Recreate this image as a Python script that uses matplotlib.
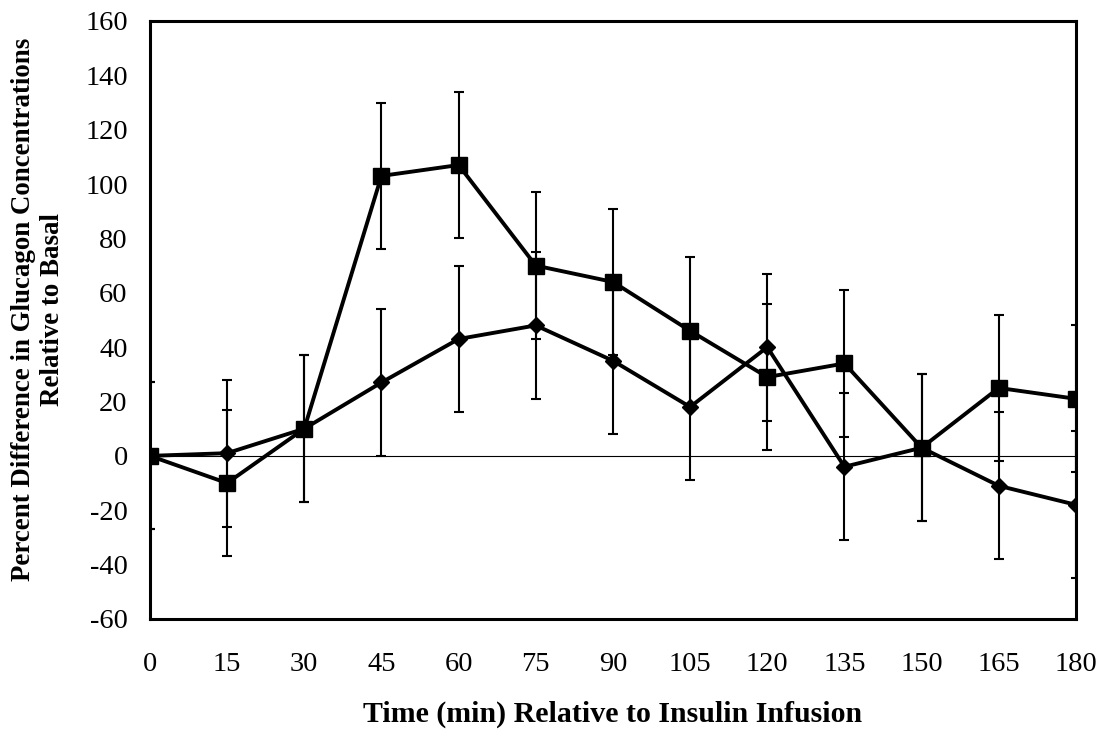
import matplotlib
matplotlib.use("Agg")
import matplotlib.pyplot as plt

plt.rcParams['font.family'] = ['Liberation Serif', 'DejaVu Serif']
plt.rcParams['axes.unicode_minus'] = False

# time points (min) relative to insulin infusion
minutes = [0, 15, 30, 45, 60, 75, 90, 105, 120, 135, 150, 165, 180]

# percent change in glucagon vs basal, two groups
diamond_vals = [0, 1, 10, 27, 43, 48, 35, 18, 40, -4, 3, -11, -18]
square_vals = [0, -10, 10, 103, 107, 70, 64, 46, 29, 34, 3, 25, 21]
diamond_err = [27, 27, 27, 27, 27, 27, 27, 27, 27, 27, 27, 27, 27]
square_err = [27, 27, 27, 27, 27, 27, 27, 27, 27, 27, 27, 27, 27]

y_ticks = [-60, -40, -20, 0, 20, 40, 60, 80, 100, 120, 140, 160]

fig = plt.figure(figsize=(11.05, 7.36), dpi=100)
ax = fig.add_axes([0.1357, 0.159, 0.838, 0.8125])

ax.axhline(0, color='black', lw=0.8, zorder=1)

ax.errorbar(minutes, diamond_vals, yerr=diamond_err, color='black', lw=2.8,
            marker='D', markersize=8.5, elinewidth=1.5, capsize=3.7, capthick=1.5,
            zorder=3)
ax.errorbar(minutes, square_vals, yerr=square_err, color='black', lw=2.8,
            marker='s', markersize=12, elinewidth=1.5, capsize=3.7, capthick=1.5,
            zorder=4)

ax.set_xlim(0, 180)
ax.set_ylim(-60, 160)
ax.set_xticks(minutes)
ax.set_yticks(y_ticks)
ax.tick_params(axis='both', length=0, labelsize=20.5)
ax.tick_params(axis='x', pad=24)
ax.tick_params(axis='y', pad=16)
for sp in ax.spines.values():
    sp.set_linewidth(2.2)
    sp.set_zorder(5)

for lbl in ax.get_xticklabels() + ax.get_yticklabels():
    lbl.set_clip_on(False)

fig.text(0.5547, 0.0295, 'Time (min) Relative to Insulin Infusion',
         ha='center', va='center', fontsize=21.5, fontweight='bold')
fig.text(0.0345, 0.579, 'Percent Difference in Glucagon Concentrations\nRelative to Basal',
         ha='center', va='center', rotation=90, fontsize=19.4, fontweight='bold',
         linespacing=1.2)

fig.savefig('out.png', dpi=100)
